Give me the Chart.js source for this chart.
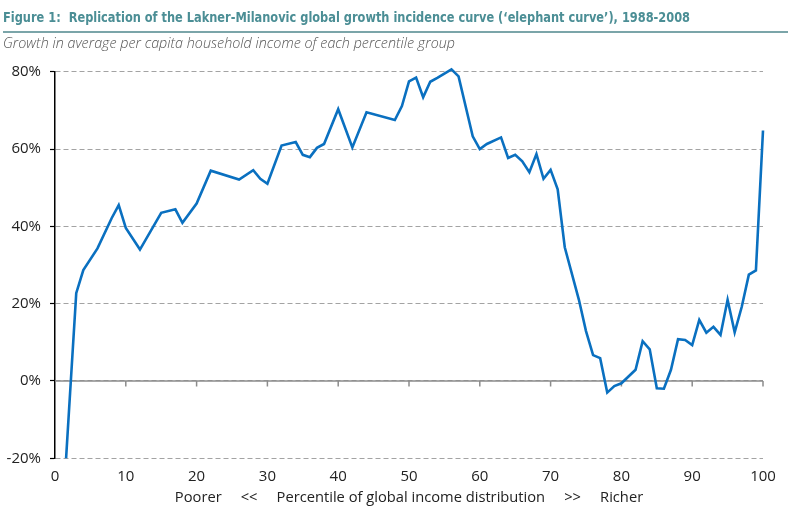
<!DOCTYPE html>
<html>
<head>
<meta charset="utf-8">
<script src="https://cdn.jsdelivr.net/npm/chart.js@4"></script>
<style>
  html, body { margin:0; padding:0; background:#fff; }
  body { width:802px; height:516px; position:relative; overflow:hidden; }
  #wrap { position:absolute; left:0; top:0; width:802px; height:516px; }
  .fit { position:absolute; white-space:nowrap; display:inline-block; transform-origin:0 0; }
  #title { left:3px; top:10px; font-family:"Liberation Sans Narrow","DejaVu Sans Condensed","Liberation Sans",sans-serif; font-weight:bold; font-size:14px; line-height:14px; color:#4b8e95; }
  #rule { position:absolute; left:3px; top:31px; width:785px; height:1.5px; background:#7ba5a9; }
  #sub { left:3px; top:35.5px; font-family:"Open Sans",sans-serif; font-style:italic; font-weight:300; font-size:14px; line-height:14px; color:#555; }
</style>
</head>
<body>
<div id="wrap"><canvas id="c" width="802" height="516"></canvas></div>
<span id="title" class="fit">Figure 1:&nbsp; Replication of the Lakner-Milanovic global growth incidence curve (‘elephant curve’), 1988-2008</span>
<div id="rule"></div>
<span id="sub" class="fit">Growth in average per capita household income of each percentile group</span>
<script>
// Percentile of global income distribution (x) and growth in % (y)
const percentiles = [1,2,3,4,6,8,9,10,12,15,17,18,20,22,26,28,29,30,32,34,35,36,37,38,40,42,44,48,49,50,51,52,53,54,56,57,59,60,61,63,64,65,66,67,68,69,70,71,72,74,75,76,77,78,79,80,82,83,84,85,86,87,88,89,90,91,92,93,94,95,96,97,98,99,100];
const growth = [-37,-7,22.7,28.7,34.3,42.1,45.5,39.6,34.0,43.5,44.4,40.9,45.9,54.4,52.1,54.5,52.3,51.0,60.9,61.8,58.5,57.9,60.3,61.3,70.3,60.4,69.5,67.5,71.1,77.5,78.5,73.4,77.4,78.4,80.6,78.8,63.3,60.0,61.3,63.0,57.7,58.5,56.8,54.0,58.7,52.3,54.6,49.6,34.6,21.0,12.9,6.7,5.9,-3.0,-1.3,-0.6,2.9,10.3,8.2,-1.9,-2.0,2.9,10.8,10.6,9.3,15.8,12.5,14.0,11.9,21.0,12.6,19.2,27.5,28.6,64.8];
const xTicks = [0,10,20,30,40,50,60,70,80,90,100];
const yTicks = [-20,0,20,40,60,80];
const xTitle = "Poorer     <<     Percentile of global income distribution     >>     Richer";

const points = percentiles.map((p, i) => ({x: p, y: growth[i]}));
const tickFont = {family: "'Open Sans', sans-serif", size: 15};
const titleFont = {family: "'Open Sans', sans-serif", size: 14.7};

const zeroAxis = {
  id: 'zeroAxis',
  beforeDatasetsDraw(chart) {
    const {ctx, chartArea, scales} = chart;
    const y0 = scales.y.getPixelForValue(0);
    ctx.save();
    ctx.strokeStyle = '#8c8c8c';
    ctx.lineWidth = 1.5;
    ctx.beginPath();
    ctx.moveTo(chartArea.left, y0);
    ctx.lineTo(chartArea.right, y0);
    xTicks.forEach(v => {
      if (v === 0) return;
      const px = scales.x.getPixelForValue(v);
      ctx.moveTo(px, y0);
      ctx.lineTo(px, y0 + 5.5);
    });
    ctx.stroke();
    ctx.restore();
  }
};

new Chart(document.getElementById('c'), {
  type: 'line',
  data: {
    datasets: [{
      data: points,
      borderColor: '#0a70c0',
      borderWidth: 2.6,
      pointRadius: 0,
      tension: 0,
      fill: false,
      clip: {left: 5, top: 10, right: 5, bottom: 0}
    }]
  },
  options: {
    responsive: false,
    animation: false,
    devicePixelRatio: 1,
    layout: { padding: { top: 71.7, right: 39, left: 0, bottom: 0 } },
    plugins: { legend: {display: false}, tooltip: {enabled: false}, title: {display: false} },
    scales: {
      x: {
        type: 'linear',
        min: 0, max: 100,
        afterBuildTicks: s => { s.ticks = xTicks.map(v => ({value: v})); },
        afterFit: s => { s.height = 57.7; },
        grid: { display: false, drawTicks: false },
        border: { display: false },
        ticks: { color: '#222', font: tickFont, padding: 9.5, maxRotation: 0, autoSkip: false },
        title: { display: true, text: xTitle, color: '#222', font: titleFont, padding: {top: 0, bottom: 9} }
      },
      y: {
        min: -20, max: 80,
        afterBuildTicks: s => { s.ticks = yTicks.map(v => ({value: v})); },
        afterFit: s => { s.width = 55; },
        grid: { color: '#a3a3a3', lineWidth: 1, tickColor: '#000', tickLength: 5, tickWidth: 1.2, tickBorderDash: [] },
        border: { display: true, color: '#000', width: 1.5, dash: [5, 3] },
        ticks: { color: '#222', font: tickFont, padding: 9, callback: v => v + '%' }
      }
    }
  },
  plugins: [zeroAxis]
});

function fit(id, w) {
  const el = document.getElementById(id);
  el.style.transform = 'none';
  const cw = el.getBoundingClientRect().width;
  if (cw > 0) el.style.transform = 'scaleX(' + (w / cw) + ')';
}
fit('title', 687);
fit('sub', 452);
if (document.fonts && document.fonts.ready) document.fonts.ready.then(() => { fit('title', 687); fit('sub', 452); });
</script>
</body>
</html>
